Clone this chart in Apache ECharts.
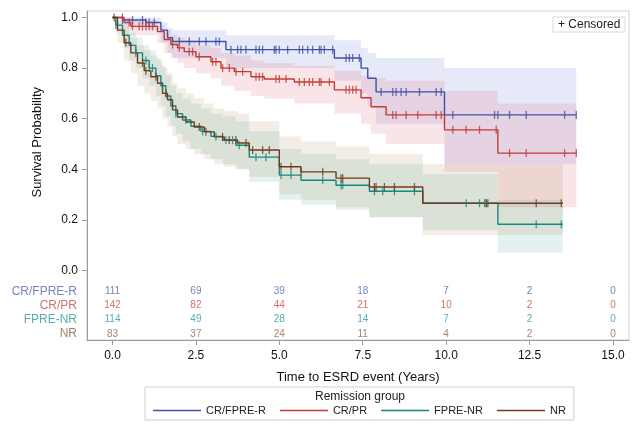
<!DOCTYPE html>
<html>
<head>
<meta charset="utf-8">
<script src="https://cdn.jsdelivr.net/npm/echarts@6/dist/echarts.min.js"></script>
<style>html,body{margin:0;padding:0;background:#fff}#c{width:636px;height:433px}</style>
</head>
<body>
<div id="c"></div>
<script>
// ---------- DATA ----------
const groupNames = ['CR/FPRE-R', 'CR/PR', 'FPRE-NR', 'NR'];

// CR/FPRE-R
const blueT  = [0, 0.3, 1.0, 1.45, 1.65, 1.8, 3.4, 6.65, 7.45, 7.65, 7.9, 9.95];
const blueS  = [1.0, 0.99, 0.98, 0.95, 0.92, 0.905, 0.873, 0.84, 0.80, 0.76, 0.706, 0.615];
const blueLo = [1.0, 0.97, 0.95, 0.90, 0.86, 0.84, 0.80, 0.75, 0.70, 0.65, 0.58, 0.42];
const blueHi = [1.0, 1.0, 1.0, 0.98, 0.96, 0.95, 0.93, 0.91, 0.88, 0.86, 0.84, 0.80];
const blueEnd = 13.9;
const blueC = [0.3, 0.6, 0.9, 1.0, 1.1, 1.25, 2.0, 2.3, 2.6, 2.8, 3.1, 3.2, 3.55, 3.75, 3.85, 4.0, 4.3, 4.4, 4.5, 4.85, 4.9, 5.0, 5.25, 5.6, 5.7, 5.85, 6.0, 6.2, 6.25, 6.35, 6.6, 7.0, 7.1, 7.2, 7.4, 8.05, 8.4, 8.5, 8.65, 8.8, 9.2, 9.7, 9.85, 10.2, 11.45, 11.55, 11.9, 12.4, 13.55, 13.9];

// CR/PR
const redT  = [0, 0.35, 0.55, 1.35, 1.55, 1.75, 1.95, 2.15, 2.5, 2.95, 3.25, 3.65, 4.15, 4.55, 5.45, 6.65, 7.45, 7.75, 8.2, 9.95, 11.55];
const redS  = [1.0, 0.98, 0.965, 0.944, 0.913, 0.893, 0.88, 0.865, 0.845, 0.825, 0.80, 0.786, 0.766, 0.757, 0.745, 0.714, 0.683, 0.647, 0.615, 0.556, 0.464];
const redLo = [1.0, 0.95, 0.93, 0.90, 0.86, 0.84, 0.82, 0.80, 0.78, 0.76, 0.73, 0.71, 0.69, 0.68, 0.66, 0.62, 0.58, 0.54, 0.50, 0.39, 0.25];
const redHi = [1.0, 1.0, 0.99, 0.97, 0.95, 0.93, 0.92, 0.91, 0.89, 0.88, 0.86, 0.85, 0.83, 0.82, 0.81, 0.79, 0.77, 0.76, 0.75, 0.71, 0.66];
const redEnd = 13.9;
const redC = [0.3, 0.5, 0.6, 0.8, 0.9, 1.0, 1.1, 1.2, 1.8, 2.0, 2.3, 2.4, 2.6, 3.0, 3.1, 3.3, 3.5, 3.7, 3.9, 4.3, 4.4, 4.5, 4.9, 5.0, 5.2, 5.6, 5.75, 5.9, 6.0, 6.2, 6.25, 6.5, 7.0, 7.1, 7.2, 7.3, 8.4, 8.5, 8.8, 9.15, 9.7, 9.85, 10.2, 10.6, 11.0, 11.5, 11.9, 12.4, 13.55, 13.9];

// FPRE-NR
const fpT  = [0, 0.1, 0.3, 0.5, 0.7, 0.9, 1.1, 1.3, 1.45, 1.6, 1.75, 1.9, 2.1, 2.35, 2.65, 2.95, 3.3, 3.7, 4.1, 5.0, 5.65, 6.7, 7.7, 9.3, 11.55];
const fpS  = [1.0, 0.97, 0.93, 0.89, 0.86, 0.83, 0.80, 0.77, 0.73, 0.69, 0.65, 0.62, 0.595, 0.57, 0.55, 0.53, 0.515, 0.495, 0.448, 0.377, 0.357, 0.337, 0.313, 0.266, 0.183];
const fpLo = [1.0, 0.94, 0.88, 0.83, 0.80, 0.76, 0.73, 0.69, 0.65, 0.61, 0.57, 0.54, 0.51, 0.48, 0.46, 0.44, 0.42, 0.40, 0.35, 0.28, 0.26, 0.24, 0.21, 0.16, 0.07];
const fpHi = [1.0, 0.99, 0.97, 0.94, 0.92, 0.89, 0.87, 0.84, 0.81, 0.77, 0.73, 0.70, 0.68, 0.66, 0.64, 0.62, 0.61, 0.59, 0.55, 0.48, 0.46, 0.44, 0.42, 0.38, 0.28];
const fpEnd = 13.5;
const fpC = [0.1, 0.7, 1.0, 1.1, 1.2, 1.5, 1.9, 2.2, 2.7, 3.1, 3.4, 3.6, 3.8, 4.3, 4.6, 5.05, 5.35, 6.3, 6.85, 6.9, 7.85, 8.1, 8.45, 9.05, 10.6, 11.0, 11.15, 11.2, 12.7, 13.45];

// NR
const nrT  = [0, 0.15, 0.35, 0.55, 0.75, 0.95, 1.15, 1.35, 1.5, 1.65, 1.8, 1.95, 2.2, 2.45, 2.75, 3.05, 3.35, 3.75, 4.1, 5.0, 5.65, 6.7, 7.7, 9.3];
const nrS  = [1.0, 0.95, 0.90, 0.86, 0.82, 0.79, 0.766, 0.74, 0.70, 0.675, 0.635, 0.607, 0.587, 0.567, 0.548, 0.528, 0.516, 0.504, 0.476, 0.41, 0.39, 0.365, 0.33, 0.266];
const nrLo = [1.0, 0.90, 0.83, 0.78, 0.73, 0.70, 0.67, 0.64, 0.60, 0.57, 0.53, 0.50, 0.48, 0.46, 0.44, 0.42, 0.41, 0.40, 0.37, 0.30, 0.28, 0.25, 0.21, 0.14];
const nrHi = [1.0, 0.98, 0.95, 0.92, 0.89, 0.87, 0.85, 0.83, 0.80, 0.78, 0.74, 0.72, 0.70, 0.68, 0.66, 0.64, 0.63, 0.62, 0.59, 0.53, 0.51, 0.49, 0.46, 0.42];
const nrEnd = 13.5;
const nrC = [0.05, 0.4, 0.9, 1.0, 1.3, 1.6, 2.6, 2.8, 3.3, 3.5, 3.7, 4.0, 4.2, 4.5, 4.7, 5.05, 5.35, 5.65, 6.3, 6.85, 6.9, 7.85, 7.9, 8.15, 8.45, 9.05, 11.2, 11.25, 12.7, 13.45];

// Number at risk
const riskTimes = [0, 2.5, 5, 7.5, 10, 12.5, 15];
const riskBlue = [111, 69, 39, 18, 7, 2, 0];
const riskRed  = [142, 82, 44, 21, 10, 2, 0];
const riskFp   = [114, 49, 28, 14, 7, 2, 0];
const riskNr   = [83, 37, 24, 11, 4, 2, 0];

const xTicks = [0, 2.5, 5, 7.5, 10, 12.5, 15];
const yTicks = [0, 0.2, 0.4, 0.6, 0.8, 1.0];

// ---------- STYLE ----------
const X_MIN = -0.764, X_MAX = 15.48;
const Y_MIN = -0.2747, Y_MAX = 1.0257;
const rowY = [-0.083, -0.139, -0.194, -0.25];
const FONT = '"Liberation Sans", Arial, sans-serif';

const groups = [
  {name: groupNames[0], T: blueT, S: blueS, lo: blueLo, hi: blueHi, end: blueEnd, C: blueC, risk: riskBlue,
   line: '#3f51a3', band: 'rgba(130,145,220,0.2)', text: '#5964ab'},
  {name: groupNames[1], T: redT, S: redS, lo: redLo, hi: redHi, end: redEnd, C: redC, risk: riskRed,
   line: '#c23b35', band: 'rgba(225,120,138,0.2)', text: '#c4504a'},
  {name: groupNames[2], T: fpT, S: fpS, lo: fpLo, hi: fpHi, end: fpEnd, C: fpC, risk: riskFp,
   line: '#17877f', band: 'rgba(90,175,165,0.17)', text: '#2a9c97'},
  {name: groupNames[3], T: nrT, S: nrS, lo: nrLo, hi: nrHi, end: nrEnd, C: nrC, risk: riskNr,
   line: '#6e3c1e', band: 'rgba(180,150,100,0.17)', text: '#8a6844'}
];

function survAt(T, S, t) {
  let v = S[0];
  for (let i = 0; i < T.length; i++) if (T[i] <= t) v = S[i];
  return v;
}

const series = [];
// bands
groups.forEach(g => {
  const data = g.T.map((t, i) => [t, i < g.T.length - 1 ? g.T[i + 1] : g.end, g.lo[i], g.hi[i]]);
  series.push({
    type: 'custom', name: g.name + ' band', silent: true, z: 1,
    data: data,
    encode: {x: [0, 1], y: [2, 3]},
    renderItem: (params, api) => {
      const p1 = api.coord([api.value(0), api.value(3)]);
      const p2 = api.coord([api.value(1), api.value(2)]);
      return {type: 'rect', shape: {x: p1[0], y: p1[1], width: p2[0] - p1[0], height: p2[1] - p1[1]},
              style: {fill: g.band}};
    }
  });
});
// step lines
groups.forEach(g => {
  const data = g.T.map((t, i) => [t, g.S[i]]);
  data.push([g.end, g.S[g.S.length - 1]]);
  series.push({
    type: 'line', name: g.name, step: 'end', showSymbol: false, symbol: 'none', z: 3,
    data: data, lineStyle: {color: g.line, width: 1.4}, itemStyle: {color: g.line}, silent: true
  });
});
// censor marks
groups.forEach(g => {
  series.push({
    type: 'scatter', name: g.name + ' censored', z: 4, silent: true,
    symbol: 'rect', symbolSize: [1.3, 8],
    itemStyle: {color: g.line},
    data: g.C.map(t => [t, survAt(g.T, g.S, t)])
  });
});
// risk table numbers and row labels
groups.forEach((g, k) => {
  series.push({
    type: 'scatter', name: g.name + ' risk', z: 5, silent: true, symbolSize: 0,
    data: riskTimes.map((t, i) => [t, rowY[k], g.risk[i]]),
    label: {show: true, position: 'inside', formatter: p => String(p.value[2]),
            color: g.text, fontSize: 10, fontFamily: FONT}
  });
  series.push({
    type: 'scatter', name: g.name + ' rowlabel', z: 5, silent: true, symbolSize: 0,
    data: [[X_MIN, rowY[k]]],
    label: {show: true, position: 'left', distance: 10, formatter: g.name,
            color: g.text, fontSize: 12, fontFamily: FONT}
  });
});

const chart = echarts.init(document.getElementById('c'), null, {renderer: 'canvas'});
chart.setOption({
  backgroundColor: '#fff',
  animation: false,
  grid: {left: 87, right: 7, top: 11, bottom: 93, show: true, borderColor: '#cfcfcf', borderWidth: 1},
  xAxis: {
    type: 'value', min: X_MIN, max: X_MAX,
    name: 'Time to ESRD event (Years)', nameLocation: 'middle', nameGap: 31,
    nameTextStyle: {fontSize: 13, color: '#111', fontFamily: FONT},
    axisLine: {show: true, onZero: false, lineStyle: {color: '#9a9a9a'}},
    axisTick: {show: true, length: 5, customValues: xTicks, lineStyle: {color: '#9a9a9a'}},
    axisLabel: {customValues: xTicks, formatter: v => v.toFixed(1), fontSize: 12, color: '#111',
                margin: 10, fontFamily: FONT},
    splitLine: {show: false}
  },
  yAxis: {
    type: 'value', min: Y_MIN, max: Y_MAX,
    axisLine: {show: true, onZero: false, lineStyle: {color: '#9a9a9a'}},
    axisTick: {show: true, length: 5, customValues: yTicks, lineStyle: {color: '#9a9a9a'}},
    axisLabel: {customValues: yTicks, formatter: v => v.toFixed(1), fontSize: 12, color: '#111',
                margin: 9, fontFamily: FONT},
    splitLine: {show: false}
  },
  legend: {
    data: groupNames, left: 145, top: 387,
    padding: [18, 8, 4, 8], borderColor: '#cfcfcf', borderWidth: 1,
    icon: 'rect', itemWidth: 48, itemHeight: 1.5, itemGap: 14,
    textStyle: {fontSize: 11, color: '#222', fontFamily: FONT},
    selectedMode: false
  },
  graphic: [
    {type: 'text', left: 31, top: 87, rotation: Math.PI / 2,
     style: {text: 'Survival Probability', fontSize: 13, fill: '#111', font: '13px ' + FONT}},
    {type: 'text', x: 360, y: 397,
     style: {text: 'Remission group', fill: '#222', font: '12px ' + FONT, align: 'center', verticalAlign: 'middle'}},
    {type: 'rect', shape: {x: 553, y: 17, width: 72, height: 15},
     style: {fill: '#fff', stroke: '#d8d8d8', lineWidth: 1}, z: 10},
    {type: 'text', x: 558, y: 24.5, z: 11,
     style: {text: '+ Censored', fill: '#222', font: '12px ' + FONT, verticalAlign: 'middle'}}
  ],
  series: series
});
</script>
</body>
</html>
